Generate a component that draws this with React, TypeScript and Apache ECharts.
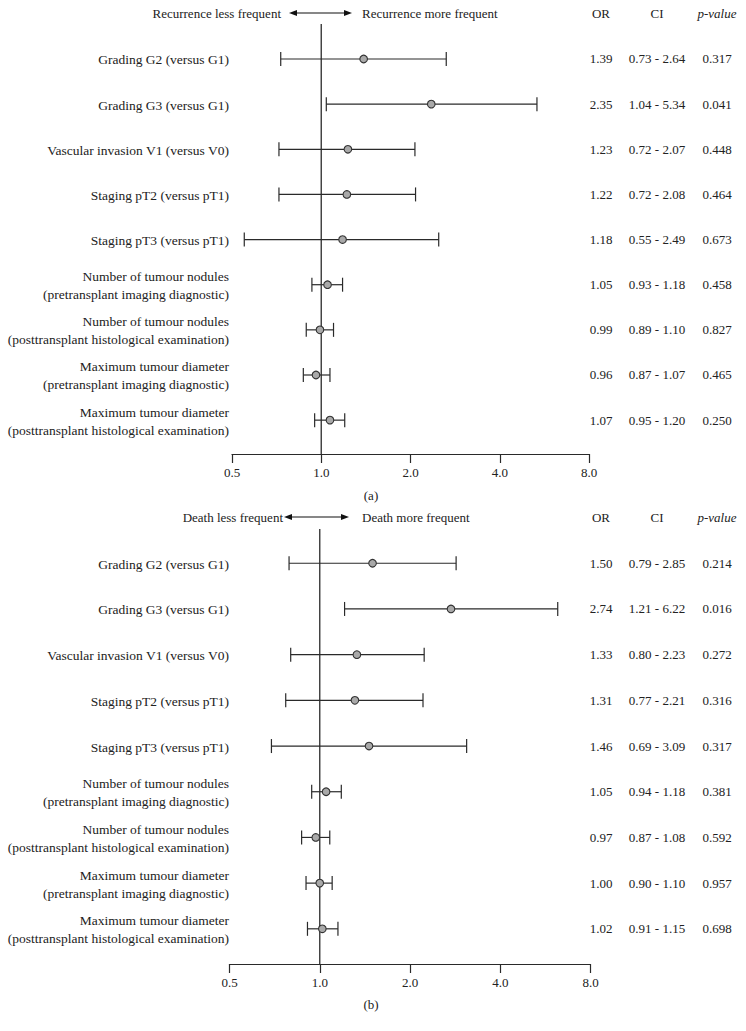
import React, { useEffect, useRef } from "react";
import * as echarts from "echarts";

const labels = [
  "Grading G2 (versus G1)",
  "Grading G3 (versus G1)",
  "Vascular invasion V1 (versus V0)",
  "Staging pT2 (versus pT1)",
  "Staging pT3 (versus pT1)",
  "Number of tumour nodules\n(pretransplant imaging diagnostic)",
  "Number of tumour nodules\n(posttransplant histological examination)",
  "Maximum tumour diameter\n(pretransplant imaging diagnostic)",
  "Maximum tumour diameter\n(posttransplant histological examination)",
];

// Panel (a): recurrence
const recOR = [1.39, 2.35, 1.23, 1.22, 1.18, 1.05, 0.99, 0.96, 1.07];
const recLow = [0.73, 1.04, 0.72, 0.72, 0.55, 0.93, 0.89, 0.87, 0.95];
const recHigh = [2.64, 5.34, 2.07, 2.08, 2.49, 1.18, 1.1, 1.07, 1.2];
const recP = ["0.317", "0.041", "0.448", "0.464", "0.673", "0.458", "0.827", "0.465", "0.250"];

// Panel (b): death
const deathOR = [1.5, 2.74, 1.33, 1.31, 1.46, 1.05, 0.97, 1.0, 1.02];
const deathLow = [0.79, 1.21, 0.8, 0.77, 0.69, 0.94, 0.87, 0.9, 0.91];
const deathHigh = [2.85, 6.22, 2.23, 2.21, 3.09, 1.18, 1.08, 1.1, 1.15];
const deathP = ["0.214", "0.016", "0.272", "0.316", "0.317", "0.381", "0.592", "0.957", "0.698"];

const tickValues = [0.5, 1, 2, 4, 8];

const FONT = "'Liberation Serif', 'DejaVu Serif', serif";
const TXT = "#222";
const LINE = "#2a2a2a";

const yRanges = [
  { min: -0.775, max: 8.75 },
  { min: -0.75, max: 8.77 },
];

function buildSeries(idx: number, or: number[], lo: number[], hi: number[], p: string[]) {
  const data = or.map((v, i) => [i, v, lo[i], hi[i]]);
  const bars = {
    type: "custom",
    xAxisIndex: idx,
    yAxisIndex: idx,
    clip: false,
    z: 5,
    encode: { x: [1, 2, 3], y: 0 },
    data,
    renderItem: (params: any, api: any) => {
      const y = api.value(0);
      const pLo = api.coord([api.value(2), y]);
      const pHi = api.coord([api.value(3), y]);
      const pOr = api.coord([api.value(1), y]);
      const cap = 7;
      const st = { stroke: LINE, lineWidth: 1.2 };
      return {
        type: "group",
        children: [
          { type: "line", shape: { x1: pLo[0], y1: pLo[1], x2: pHi[0], y2: pHi[1] }, style: st },
          { type: "line", shape: { x1: pLo[0], y1: pLo[1] - cap, x2: pLo[0], y2: pLo[1] + cap }, style: st },
          { type: "line", shape: { x1: pHi[0], y1: pHi[1] - cap, x2: pHi[0], y2: pHi[1] + cap }, style: st },
          { type: "circle", shape: { cx: pOr[0], cy: pOr[1], r: 3.8 }, style: { fill: "#a9a9a9", stroke: "#333", lineWidth: 1.1 } },
        ],
      };
    },
  };
  const texts = {
    type: "custom",
    xAxisIndex: idx,
    yAxisIndex: idx,
    clip: false,
    z: 5,
    encode: { x: 1, y: 0 },
    data: or.map((v, i) => [i, v]),
    renderItem: (params: any, api: any) => {
      const i = params.dataIndex;
      const yPix = api.coord([1, api.value(0)])[1];
      const base = { fontFamily: FONT, fontSize: 13, fill: TXT, verticalAlign: "middle" };
      return {
        type: "group",
        children: [
          { type: "text", x: 229, y: yPix + 1, style: { ...base, fontSize: 13.5, text: labels[i], align: "right", lineHeight: 18 } },
          { type: "text", x: 601, y: yPix, style: { ...base, text: or[i].toFixed(2), align: "center" } },
          { type: "text", x: 657, y: yPix, style: { ...base, text: lo[i].toFixed(2) + " - " + hi[i].toFixed(2), align: "center" } },
          { type: "text", x: 717, y: yPix, style: { ...base, text: p[i], align: "center" } },
        ],
      };
    },
  };
  const ref = {
    type: "line",
    xAxisIndex: idx,
    yAxisIndex: idx,
    symbol: "none",
    silent: true,
    z: 2,
    lineStyle: { color: "#3a3a3a", width: 1.4 },
    data: [
      [1, yRanges[idx].min],
      [1, yRanges[idx].max],
    ],
  };
  return [ref, bars, texts];
}

function header(y: number, leftText: string, rightText: string, arrowL: number, arrowR: number, leftEnd: number, panel: string, panelY: number) {
  const base = { fontFamily: FONT, fontSize: 13, fill: TXT, verticalAlign: "middle" };
  return [
    { type: "text", x: leftEnd, y, style: { ...base, text: leftText, align: "right" } },
    { type: "text", x: 362, y, style: { ...base, text: rightText, align: "left" } },
    { type: "line", shape: { x1: arrowL + 5, y1: y, x2: arrowR - 5, y2: y }, style: { stroke: "#111", lineWidth: 1.2 } },
    { type: "polygon", shape: { points: [[arrowL, y], [arrowL + 8, y - 3], [arrowL + 8, y + 3]] }, style: { fill: "#111" } },
    { type: "polygon", shape: { points: [[arrowR, y], [arrowR - 8, y - 3], [arrowR - 8, y + 3]] }, style: { fill: "#111" } },
    { type: "text", x: 601, y, style: { ...base, text: "OR", align: "center" } },
    { type: "text", x: 657, y, style: { ...base, text: "CI", align: "center" } },
    { type: "text", x: 717, y, style: { ...base, text: "p-value", align: "center", fontStyle: "italic" } },
    { type: "text", x: 371, y: panelY, style: { ...base, text: panel, align: "center" } },
  ];
}

export default function App() {
  const ref = useRef<HTMLDivElement>(null);
  useEffect(() => {
    if (!ref.current) return;
    const chart = echarts.init(ref.current, undefined, { renderer: "svg" });
    const xAxisBase = {
      type: "log",
      logBase: 2,
      min: 0.5,
      max: 8,
      interval: 1,
      splitNumber: 4,
      axisLine: { show: true, onZero: false, lineStyle: { color: LINE, width: 1.2 } },
      axisTick: { show: true, inside: false, length: 9, lineStyle: { color: LINE, width: 1.2 } },
      splitLine: { show: false },
      axisLabel: {
        fontFamily: FONT,
        fontSize: 13,
        color: TXT,
        margin: 12,
        formatter: (v: number) => {
          const m = tickValues.find((t) => Math.abs(t - v) < 1e-6);
          return m !== undefined ? m.toFixed(1) : "";
        },
      },
    };
    const yAxisBase = { type: "value", inverse: true, show: false };
    chart.setOption({
      animation: false,
      backgroundColor: "#ffffff",
      grid: [
        { left: 232, width: 357, top: 24, height: 430 },
        { left: 229.5, width: 361, top: 529, height: 435 },
      ],
      xAxis: [
        { ...xAxisBase, gridIndex: 0 },
        { ...xAxisBase, gridIndex: 1 },
      ],
      yAxis: [
        { ...yAxisBase, gridIndex: 0, min: yRanges[0].min, max: yRanges[0].max },
        { ...yAxisBase, gridIndex: 1, min: yRanges[1].min, max: yRanges[1].max },
      ],
      graphic: [
        ...header(13, "Recurrence less frequent", "Recurrence more frequent", 289, 352, 281, "(a)", 495),
        ...header(517, "Death less frequent", "Death more frequent", 284, 349, 283, "(b)", 1004),
      ],
      series: [
        ...buildSeries(0, recOR, recLow, recHigh, recP),
        ...buildSeries(1, deathOR, deathLow, deathHigh, deathP),
      ],
    });
    return () => chart.dispose();
  }, []);
  return (
    <div
      ref={ref}
      style={{ position: "fixed", left: 0, top: 0, width: 746, height: 1031, background: "#fff" }}
    />
  );
}
